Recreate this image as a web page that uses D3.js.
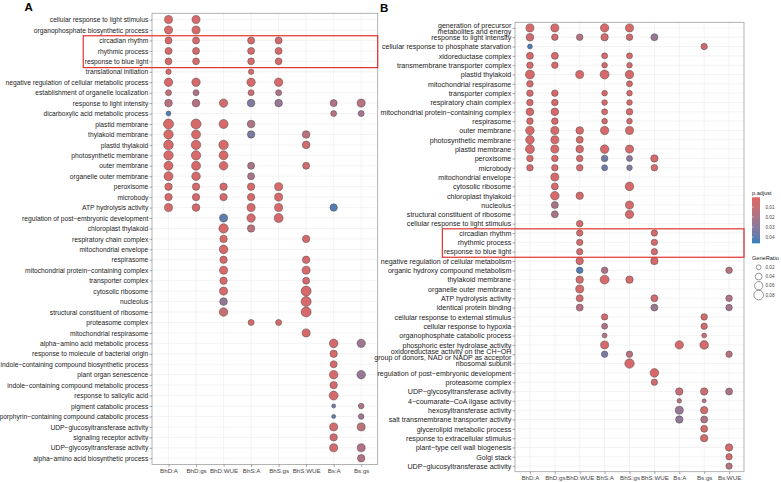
<!DOCTYPE html>
<html>
<head>
<meta charset="utf-8">
<script src="https://cdn.jsdelivr.net/npm/d3@7"></script>
<style>
body { margin: 0; background: #fff; }
svg { font-family: Arial, "Liberation Sans", sans-serif; }
</style>
</head>
<body>
<div id="chart"></div>
<script>
var w = 781;
var h = 482;

// ---- panel A data ----
var groupsA = ["BhD:A", "BhD:gs", "BhD:WUE", "BhS:A", "BhS:gs", "BhS:WUE", "Bs:A", "Bs:gs"];

var termsA = [
	"cellular response to light stimulus",
	"organophosphate biosynthetic process",
	"circadian rhythm",
	"rhythmic process",
	"response to blue light",
	"translational initiation",
	"negative regulation of cellular metabolic process",
	"establishment of organelle localization",
	"response to light intensity",
	"dicarboxylic acid metabolic process",
	"plastid membrane",
	"thylakoid membrane",
	"plastid thylakoid",
	"photosynthetic membrane",
	"outer membrane",
	"organelle outer membrane",
	"peroxisome",
	"microbody",
	"ATP hydrolysis activity",
	"regulation of post\u2212embryonic development",
	"chloroplast thylakoid",
	"respiratory chain complex",
	"mitochondrial envelope",
	"respirasome",
	"mitochondrial protein\u2212containing complex",
	"transporter complex",
	"cytosolic ribosome",
	"nucleolus",
	"structural constituent of ribosome",
	"proteasome complex",
	"mitochondrial respirasome",
	"alpha\u2212amino acid metabolic process",
	"response to molecule of bacterial origin",
	"indole\u2212containing compound biosynthetic process",
	"plant organ senescence",
	"indole\u2212containing compound metabolic process",
	"response to salicylic acid",
	"pigment catabolic process",
	"porphyrin\u2212containing compound catabolic process",
	"UDP\u2212glucosyltransferase activity",
	"signaling receptor activity",
	"UDP\u2212glycosyltransferase activity",
	"alpha\u2212amino acid biosynthetic process"
];

// GeneRatio, one row per term, one column per group (null = not enriched)
var ratioA = [
	[.055, .055, null, null, null, null, null, null],
	[.055, .055, null, null, null, null, null, null],
	[.042, .042, null, .042, .042, null, null, null],
	[.042, .042, null, .042, .042, null, null, null],
	[.040, .040, null, .040, .040, null, null, null],
	[.025, null, null, .025, null, null, null, null],
	[.060, .060, null, .060, .060, null, null, null],
	[.031, .031, null, .031, .031, null, null, null],
	[.050, .050, .060, .050, .050, null, .042, .055],
	[.021, null, null, null, null, null, .031, .031],
	[.086, .086, .069, .050, null, null, null, null],
	[.076, .069, null, .047, null, .050, null, null],
	[.079, .076, .076, null, null, .050, null, null],
	[.076, .076, .069, null, null, null, null, null],
	[.069, .069, .063, .042, null, .042, null, null],
	[.069, .063, null, .042, null, null, null, null],
	[.047, .047, .047, .047, .055, null, null, null],
	[.047, .047, .047, .047, .055, null, null, null],
	[.055, .050, null, .055, .055, null, .047, null],
	[null, null, .055, .060, .069, null, null, null],
	[null, null, .076, .047, null, null, null, null],
	[null, null, .047, null, null, .047, null, null],
	[null, null, .063, null, null, null, null, null],
	[null, null, .047, null, null, .047, null, null],
	[null, null, .055, null, null, .055, null, null],
	[null, null, .047, null, null, .042, null, null],
	[null, null, .055, null, null, .086, null, null],
	[null, null, .050, null, null, .086, null, null],
	[null, null, .063, null, null, .086, null, null],
	[null, null, null, .031, .031, null, null, null],
	[null, null, null, null, null, .055, null, null],
	[null, null, null, null, null, null, .063, .060],
	[null, null, null, null, null, null, .047, null],
	[null, null, null, null, null, null, .042, null],
	[null, null, null, null, null, null, .063, .063],
	[null, null, null, null, null, null, .047, null],
	[null, null, null, null, null, null, .069, null],
	[null, null, null, null, null, null, .014, .027],
	[null, null, null, null, null, null, .014, .027],
	[null, null, null, null, null, null, .055, .055],
	[null, null, null, null, null, null, .047, null],
	[null, null, null, null, null, null, .055, .055],
	[null, null, null, null, null, null, null, .047]
];

var padjA = [
	[.004, .004, null, null, null, null, null, null],
	[.004, .004, null, null, null, null, null, null],
	[.004, .004, null, .004, .004, null, null, null],
	[.004, .004, null, .004, .004, null, null, null],
	[.004, .004, null, .004, .004, null, null, null],
	[.005, null, null, .005, null, null, null, null],
	[.004, .004, null, .004, .004, null, null, null],
	[.012, .018, null, .008, .018, null, null, null],
	[.016, .016, .006, .032, .026, null, .018, .016],
	[.043, null, null, null, null, null, .016, .022],
	[.004, .004, .004, .018, null, null, null, null],
	[.004, .004, null, .034, null, .014, null, null],
	[.004, .004, .004, null, null, .006, null, null],
	[.004, .004, .004, null, null, null, null, null],
	[.004, .004, .004, .020, null, .006, null, null],
	[.004, .004, null, .020, null, null, null, null],
	[.004, .004, .004, .004, .004, null, null, null],
	[.004, .004, .004, .004, .004, null, null, null],
	[.004, .004, null, .004, .004, null, .042, null],
	[null, null, .040, .005, .005, null, null, null],
	[null, null, .004, .014, null, null, null, null],
	[null, null, .004, null, null, .004, null, null],
	[null, null, .004, null, null, null, null, null],
	[null, null, .004, null, null, .004, null, null],
	[null, null, .004, null, null, .004, null, null],
	[null, null, .004, null, null, .004, null, null],
	[null, null, .004, null, null, .004, null, null],
	[null, null, .028, null, null, .004, null, null],
	[null, null, .010, null, null, .004, null, null],
	[null, null, null, .005, .005, null, null, null],
	[null, null, null, null, null, .004, null, null],
	[null, null, null, null, null, null, .005, .024],
	[null, null, null, null, null, null, .005, null],
	[null, null, null, null, null, null, .005, null],
	[null, null, null, null, null, null, .005, .026],
	[null, null, null, null, null, null, .005, null],
	[null, null, null, null, null, null, .005, null],
	[null, null, null, null, null, null, .036, .018],
	[null, null, null, null, null, null, .040, .024],
	[null, null, null, null, null, null, .006, .014],
	[null, null, null, null, null, null, .006, null],
	[null, null, null, null, null, null, .006, .018],
	[null, null, null, null, null, null, null, .018]
];

// ---- panel B data ----
var groupsB = ["BhD:A", "BhD:gs", "BhD:WUE", "BhS:A", "BhS:gs", "BhS:WUE", "Bs:A", "Bs:gs", "Bs:WUE"];

var termsB = [
	"generation of precursor\nmetabolites and energy",
	"response to light intensity",
	"cellular response to phosphate starvation",
	"xidoreductase complex",
	"transmembrane transporter complex",
	"plastid thylakoid",
	"mitochondrial respirasome",
	"transporter complex",
	"respiratory chain complex",
	"mitochondrial protein\u2212containing complex",
	"respirasome",
	"outer membrane",
	"photosynthetic membrane",
	"plastid membrane",
	"peroxisome",
	"microbody",
	"mitochondrial envelope",
	"cytosolic ribosome",
	"chloroplast thylakoid",
	"nucleolus",
	"structural constituent of ribosome",
	"cellular response to light stimulus",
	"circadian rhythm",
	"rhythmic process",
	"response to blue light",
	"negative regulation of cellular metabolism",
	"organic hydroxy compound metabolism",
	"thylakoid membrane",
	"organelle outer membrane",
	"ATP hydrolysis activity",
	"identical protein binding",
	"cellular response to external stimulus",
	"cellular response to hypoxia",
	"organophosphate catabolic process",
	"phosphoric ester hydrolase activity",
	"oxidoreductase activity on the CH\u2212OH\ngroup of donors, NAD or NADP as acceptor",
	"ribosomal subunit",
	"regulation of post\u2212embryonic development",
	"proteasome complex",
	"UDP\u2212glycosyltransferase activity",
	"4\u2212coumarate\u2212CoA ligase activity",
	"hexosyltransferase activity",
	"salt transmembrane transporter activity",
	"glycerolipid metabolic process",
	"response to extracellular stimulus",
	"plant\u2212type cell wall biogenesis",
	"Golgi stack",
	"UDP\u2212glucosyltransferase activity"
];

var ratioB = [
	[.055, .055, null, .060, .055, null, null, null, null],
	[.050, .037, .037, .047, .037, .042, null, null, null],
	[.021, null, null, null, null, null, null, .035, null],
	[.042, .042, null, .031, .031, null, null, null, null],
	[.037, .037, null, .027, .027, null, null, null, null],
	[.069, null, .055, .069, .060, null, null, null, null],
	[.037, null, null, null, .031, null, null, null, null],
	[.037, .037, null, .027, .027, null, null, null, null],
	[.037, .037, null, .027, .027, null, null, null, null],
	[.050, .050, null, .031, .037, null, null, null, null],
	[.037, .037, null, .027, .027, null, null, null, null],
	[.063, .055, .050, .060, .055, null, null, null, null],
	[.063, .055, .042, null, null, null, null, null, null],
	[.069, .055, .050, .063, .055, null, null, null, null],
	[.037, .037, .037, .037, .031, .047, null, null, null],
	[.037, .037, .037, .031, .027, .037, null, null, null],
	[null, .055, null, null, null, null, null, null, null],
	[null, .042, null, null, .063, null, null, null, null],
	[null, .063, .047, null, null, null, null, null, null],
	[null, .042, null, null, .055, null, null, null, null],
	[null, .042, null, null, .060, null, null, null, null],
	[null, null, .037, null, null, null, null, null, null],
	[null, null, .035, null, null, .035, null, null, null],
	[null, null, .035, null, null, .035, null, null, null],
	[null, null, .035, null, null, .035, null, null, null],
	[null, null, .047, null, null, .047, null, null, null],
	[null, null, .037, .037, null, null, null, null, .037],
	[null, null, .047, .069, .047, null, null, null, null],
	[null, null, .055, null, null, null, null, null, null],
	[null, null, .042, null, null, .042, null, null, .037],
	[null, null, .042, null, null, .042, null, null, .037],
	[null, null, null, .035, null, null, null, .037, null],
	[null, null, null, .031, null, null, null, .035, null],
	[null, null, null, .021, null, null, null, .021, null],
	[null, null, null, .055, null, null, .060, .063, null],
	[null, null, null, .035, .035, null, null, null, .035],
	[null, null, null, null, .076, null, null, null, null],
	[null, null, null, null, null, .063, null, null, null],
	[null, null, null, null, null, .035, null, null, null],
	[null, null, null, null, null, null, .047, .047, .042],
	[null, null, null, null, null, null, .018, .014, null],
	[null, null, null, null, null, null, .055, .047, null],
	[null, null, null, null, null, null, .047, .042, null],
	[null, null, null, null, null, null, null, .042, null],
	[null, null, null, null, null, null, null, .047, null],
	[null, null, null, null, null, null, null, null, .047],
	[null, null, null, null, null, null, null, null, .035],
	[null, null, null, null, null, null, null, null, .035]
];

var padjB = [
	[.004, .004, null, .004, .004, null, null, null, null],
	[.006, .006, .016, .006, .006, .026, null, null, null],
	[.043, null, null, null, null, null, null, .006, null],
	[.004, .004, null, .004, .004, null, null, null, null],
	[.004, .004, null, .004, .004, null, null, null, null],
	[.004, null, .004, .004, .004, null, null, null, null],
	[.004, null, null, null, .004, null, null, null, null],
	[.004, .004, null, .004, .004, null, null, null, null],
	[.004, .004, null, .004, .004, null, null, null, null],
	[.004, .004, null, .004, .004, null, null, null, null],
	[.004, .004, null, .004, .004, null, null, null, null],
	[.004, .004, .004, .004, .004, null, null, null, null],
	[.004, .004, .004, null, null, null, null, null, null],
	[.004, .004, .004, .004, .004, null, null, null, null],
	[.004, .004, .004, .036, .030, .005, null, null, null],
	[.005, .005, .005, .038, .032, .005, null, null, null],
	[null, .004, null, null, null, null, null, null, null],
	[null, .004, null, null, .004, null, null, null, null],
	[null, .004, .004, null, null, null, null, null, null],
	[null, .020, null, null, .005, null, null, null, null],
	[null, .020, null, null, .005, null, null, null, null],
	[null, null, .005, null, null, null, null, null, null],
	[null, null, .005, null, null, .005, null, null, null],
	[null, null, .005, null, null, .005, null, null, null],
	[null, null, .005, null, null, .005, null, null, null],
	[null, null, .005, null, null, .005, null, null, null],
	[null, null, .042, .018, null, null, null, null, .016],
	[null, null, .005, .005, .005, null, null, null, null],
	[null, null, .005, null, null, null, null, null, null],
	[null, null, .006, null, null, .006, null, null, .018],
	[null, null, .016, null, null, .024, null, null, .022],
	[null, null, null, .006, null, null, null, .006, null],
	[null, null, null, .018, null, null, null, .006, null],
	[null, null, null, .016, null, null, null, .008, null],
	[null, null, null, .005, null, null, .005, .005, null],
	[null, null, null, .034, .014, null, null, null, .016],
	[null, null, null, null, .004, null, null, null, null],
	[null, null, null, null, null, .004, null, null, null],
	[null, null, null, null, null, .006, null, null, null],
	[null, null, null, null, null, null, .010, .008, .020],
	[null, null, null, null, null, null, .016, .018, null],
	[null, null, null, null, null, null, .026, .006, null],
	[null, null, null, null, null, null, .028, .018, null],
	[null, null, null, null, null, null, null, .006, null],
	[null, null, null, null, null, null, null, .006, null],
	[null, null, null, null, null, null, null, null, .006],
	[null, null, null, null, null, null, null, null, .006],
	[null, null, null, null, null, null, null, null, .016]
];

var boxTerms = ["circadian rhythm", "rhythmic process", "response to blue light"];
var padjTicks = [0.01, 0.02, 0.03, 0.04];
var ratioTicks = [0.02, 0.04, 0.06, 0.08];

var svg = d3.select("#chart")
			.append("svg")
			.attr("width", w)
			.attr("height", h);

var color = d3.scaleLinear()
			  .domain([0.0003, 0.0462])
			  .range(["#e06663", "#327eba"])
			  .interpolate(d3.interpolateLab);

var size = d3.scaleSqrt()
			 .domain([0, 0.1])
			 .range([0, 5.4]);

function drawPanel(p) {
	var g = svg.append("g");

	var xScale = d3.scalePoint()
				   .domain(p.groups)
				   .range([p.left, p.right])
				   .padding(0.6);

	var yScale = d3.scalePoint()
				   .domain(p.terms)
				   .range([p.top, p.bottom])
				   .padding(0.6);

	// grid
	g.selectAll("line.gx")
	 .data(p.groups)
	 .enter()
	 .append("line")
	 .attr("x1", function(d) { return xScale(d); })
	 .attr("x2", function(d) { return xScale(d); })
	 .attr("y1", p.top)
	 .attr("y2", p.bottom)
	 .attr("stroke", "#ebebeb")
	 .attr("stroke-width", 0.6);

	g.selectAll("line.gy")
	 .data(p.terms)
	 .enter()
	 .append("line")
	 .attr("y1", function(d) { return yScale(d); })
	 .attr("y2", function(d) { return yScale(d); })
	 .attr("x1", p.left)
	 .attr("x2", p.right)
	 .attr("stroke", "#ebebeb")
	 .attr("stroke-width", 0.6);

	// flatten the matrices into dots
	var dots = [];
	p.terms.forEach(function(t, i) {
		p.groups.forEach(function(gr, j) {
			if (p.ratio[i][j] != null) {
				dots.push({ term: t, group: gr, ratio: p.ratio[i][j], padj: p.padj[i][j] });
			}
		});
	});

	g.selectAll("circle")
	 .data(dots)
	 .enter()
	 .append("circle")
	 .attr("cx", function(d) { return xScale(d.group); })
	 .attr("cy", function(d) { return yScale(d.term); })
	 .attr("r", function(d) { return size(d.ratio); })
	 .attr("fill", function(d) { return color(d.padj); })
	 .attr("stroke", "#4a4a4a")
	 .attr("stroke-width", 0.5);

	g.append("rect")
	 .attr("x", p.left)
	 .attr("y", p.top)
	 .attr("width", p.right - p.left)
	 .attr("height", p.bottom - p.top)
	 .attr("fill", "none")
	 .attr("stroke", "#a0a0a0")
	 .attr("stroke-width", 0.8);

	// axes
	var yAxis = g.append("g")
				 .attr("transform", "translate(" + p.left + ",0)")
				 .call(d3.axisLeft(yScale).tickSize(2.5).tickPadding(1.2));
	yAxis.select(".domain").remove();
	yAxis.selectAll(".tick line").attr("stroke", "#555").attr("stroke-width", 0.5);
	yAxis.selectAll(".tick text")
		 .attr("fill", "#222")
		 .attr("font-size", p.yFont)
		 .each(function(d) {
		 	var lines = d.split("\n");
		 	if (lines.length > 1) {
		 		var t = d3.select(this).text(null).attr("dy", null);
		 		lines.forEach(function(l, k) {
		 			t.append("tspan")
		 			 .attr("x", -3.7)
		 			 .attr("y", (k - 0.5) * p.yFont * 0.82)
		 			 .attr("dy", "0.32em")
		 			 .text(l);
		 		});
		 	}
		 });

	var xAxis = g.append("g")
				 .attr("transform", "translate(0," + p.bottom + ")")
				 .call(d3.axisBottom(xScale).tickSize(2.5).tickPadding(1.8));
	xAxis.select(".domain").remove();
	xAxis.selectAll(".tick line").attr("stroke", "#555").attr("stroke-width", 0.5);
	xAxis.selectAll(".tick text").attr("fill", "#444").attr("font-size", 6.2);

	// red highlight box round the rhythm terms
	var minX = 0;
	yAxis.selectAll(".tick")
		 .filter(function(d) { return boxTerms.indexOf(d) >= 0; })
		 .select("text")
		 .each(function() {
		 	var b = this.getBBox();
		 	minX = Math.min(minX, b.x);
		 });
	var step = yScale.step();
	var yTop = yScale(boxTerms[0]) - 0.45 * step;
	var yBot = yScale(boxTerms[boxTerms.length - 1]) + 0.6 * step;
	g.append("rect")
	 .attr("x", p.left + minX - 1.5)
	 .attr("y", yTop)
	 .attr("width", p.right - (p.left + minX - 1.5))
	 .attr("height", yBot - yTop)
	 .attr("fill", "none")
	 .attr("stroke", "#e0332f")
	 .attr("stroke-width", 1.2);

	svg.append("text")
	   .attr("x", p.letterX)
	   .attr("y", p.letterY)
	   .attr("font-size", 11.5)
	   .attr("font-weight", "bold")
	   .attr("fill", "#000")
	   .text(p.letter);
}

drawPanel({
	groups: groupsA, terms: termsA, ratio: ratioA, padj: padjA,
	left: 152, right: 377.7, top: 13.3, bottom: 464.5,
	yFont: 6.7, letter: "A", letterX: 24.5, letterY: 11
});

drawPanel({
	groups: groupsB, terms: termsB, ratio: ratioB, padj: padjB,
	left: 515, right: 744, top: 22.3, bottom: 471.7,
	yFont: 7.1, letter: "B", letterX: 380, letterY: 11.5
});

// ---- legends (panel B) ----
var lg = svg.append("g");
var barTop = 197.3, barBot = 243.3, barX = 752;

var defs = svg.append("defs");
var grad = defs.append("linearGradient")
			   .attr("id", "padjGrad")
			   .attr("x1", 0).attr("x2", 0).attr("y1", 0).attr("y2", 1);
d3.range(0, 1.01, 0.1).forEach(function(t) {
	var dom = color.domain();
	grad.append("stop")
		.attr("offset", t)
		.attr("stop-color", color(dom[0] + t * (dom[1] - dom[0])));
});

lg.append("text")
  .attr("x", barX)
  .attr("y", barTop - 2.5)
  .attr("font-size", 5.6)
  .attr("fill", "#222")
  .text("p.adjust");

lg.append("rect")
  .attr("x", barX)
  .attr("y", barTop)
  .attr("width", 8)
  .attr("height", barBot - barTop)
  .attr("fill", "url(#padjGrad)");

var barScale = d3.scaleLinear().domain(color.domain()).range([barTop, barBot]);

lg.selectAll("line.bt")
  .data(padjTicks)
  .enter()
  .append("line")
  .attr("x1", barX)
  .attr("x2", barX + 1.6)
  .attr("y1", function(d) { return barScale(d); })
  .attr("y2", function(d) { return barScale(d); })
  .attr("stroke", "#fff")
  .attr("stroke-width", 0.5);

lg.selectAll("text.bl")
  .data(padjTicks)
  .enter()
  .append("text")
  .attr("x", barX + 13.5)
  .attr("y", function(d) { return barScale(d); })
  .attr("dy", "0.35em")
  .attr("font-size", 4.6)
  .attr("fill", "#444")
  .text(function(d) { return d.toFixed(2); });

lg.append("text")
  .attr("x", barX)
  .attr("y", 260)
  .attr("font-size", 5.6)
  .attr("fill", "#222")
  .text("GeneRatio");

var keyY = d3.scalePoint().domain(ratioTicks).range([267.3, 295]);

lg.selectAll("circle")
  .data(ratioTicks)
  .enter()
  .append("circle")
  .attr("cx", 758.7)
  .attr("cy", function(d) { return keyY(d); })
  .attr("r", function(d) { return size(d); })
  .attr("fill", "none")
  .attr("stroke", "#333")
  .attr("stroke-width", 0.5);

lg.selectAll("text.kl")
  .data(ratioTicks)
  .enter()
  .append("text")
  .attr("x", barX + 13.5)
  .attr("y", function(d) { return keyY(d); })
  .attr("dy", "0.35em")
  .attr("font-size", 4.6)
  .attr("fill", "#444")
  .text(function(d) { return d.toFixed(2); });
</script>
</body>
</html>
